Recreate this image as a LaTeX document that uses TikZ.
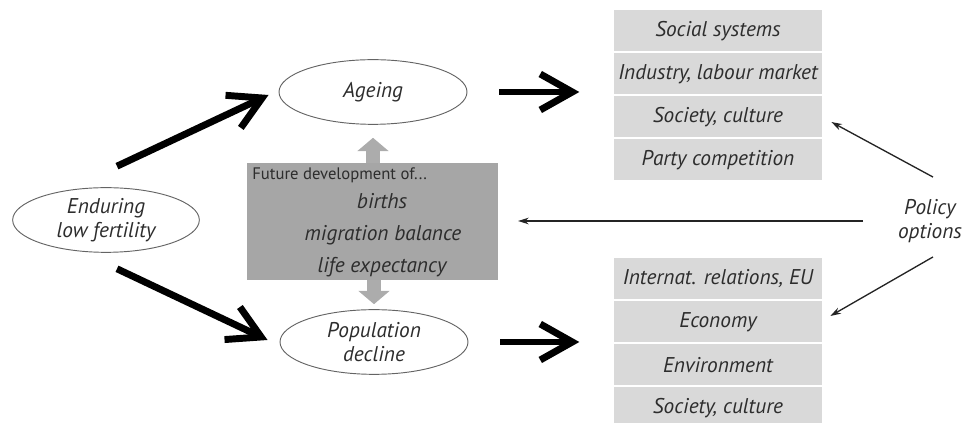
\documentclass[tikz,border=0pt]{standalone}
\usepackage{fontspec}
\setmainfont{PT Sans}
\usepackage{tikz}
\usetikzlibrary{arrows.meta,shapes,positioning}
\usepackage{xcolor}
\definecolor{dgtext}{RGB}{45,45,45}
\definecolor{dgline}{RGB}{100,100,100}
\definecolor{dgcell}{RGB}{217,217,217}
\definecolor{dgmid}{RGB}{166,166,166}
\definecolor{dgarr}{RGB}{172,172,172}
\tikzstyle{oval} = [ellipse, draw=dgline, line width=0.7pt, inner sep=0pt, minimum width=141pt, minimum height=48.5pt, align=center, text=dgtext, font=\fontsize{16}{18}\selectfont\itshape]
\tikzstyle{cell} = [rectangle, fill=dgcell, draw=white, line width=1.5pt, inner sep=0pt, outer sep=0pt, minimum width=158pt, minimum height=32.25pt, text=dgtext, font=\fontsize{16}{18}\selectfont\itshape]
\tikzstyle{bigarrow} = [line width=5.2pt, -{Straight Barb[length=24pt,width=27pt]}]
\tikzstyle{thinarrow} = [line width=1pt, dgtext!80!black, -{Stealth[length=8pt,width=5pt]}]
\tikzstyle{grayarrow} = [line width=10.5pt, dgarr, -{Triangle[length=10pt,width=23pt]}]

\begin{document}
\begin{tikzpicture}[x=0.75pt, y=-0.75pt]
\useasboundingbox (0,0) rectangle (965,423);

% Ovals
\node[oval, minimum width=140pt] (fert) at (106,220) {Enduring\\low fertility};
\node[oval] (ageing) at (373,92) {Ageing};
\node[oval] (decline) at (374,342) {Population\\decline};

% Future development box
\node[rectangle, fill=dgmid, minimum width=188pt, minimum height=88pt] (fut) at (372.5,221.5) {};
\node[anchor=west, inner sep=0pt, text=dgtext, font=\fontsize{12.5}{14}\selectfont] (futlbl) at (252,175) {Future development of...};
\node[inner sep=0pt, text=dgtext, font=\fontsize{16}{18}\selectfont\itshape] (births) at (382,201) {births};
\node[inner sep=0pt, text=dgtext, font=\fontsize{16}{18}\selectfont\itshape] (migr) at (383,235) {migration balance};
\node[inner sep=0pt, text=dgtext, font=\fontsize{16}{18}\selectfont\itshape] (life) at (382,267) {life expectancy};

% Effects of ageing
\node[cell] (soc1) at (718,31) {Social systems};
\node[cell, below=0pt of soc1] (soc2) {Industry, labour market};
\node[cell, below=0pt of soc2] (soc3) {Society, culture};
\node[cell, below=0pt of soc3] (soc4) {Party competition};

% Effects of decline
\node[cell] (dec1) at (718,279) {Internat. relations, EU};
\node[cell, below=0pt of dec1] (dec2) {Economy};
\node[cell, below=0pt of dec2] (dec3) {Environment};
\node[cell, below=0pt of dec3] (dec4) {Society, culture};

% Policy
\node[inner sep=0pt, align=center, text=dgtext, font=\fontsize{16}{18}\selectfont\itshape] (pol) at (930,221) {Policy\\options};

% Arrows
\draw[bigarrow] ([shift={(11,-21)}]fert.north) -- ([shift={(-10,3)}]ageing.west);
\draw[bigarrow] ([shift={(11,16)}]fert.south) -- ([shift={(-12,-2)}]decline.west);
\draw[bigarrow, shorten <=24pt, shorten >=25pt] (ageing.east) -- (ageing.east -| soc2.west);
\draw[bigarrow, shorten <=24pt, shorten >=25pt] (decline.east) -- (decline.east -| dec3.west);
\draw[grayarrow, shorten >=9.75pt] (fut.north -| ageing.south) -- (ageing.south);
\draw[grayarrow, shorten >=3.75pt] (fut.south -| decline.north) -- (decline.north);
\draw[thinarrow] ([shift={(3,-22)}]pol.north) -- ([shift={(8,5)}]soc3.east);
\draw[thinarrow] ([shift={(3,14)}]pol.south) -- ([shift={(7,-6)}]dec2.east);
\draw[thinarrow, shorten <=26pt, shorten >=15pt] (pol.west) -- (pol.west -| fut.east);
\end{tikzpicture}
\end{document}
